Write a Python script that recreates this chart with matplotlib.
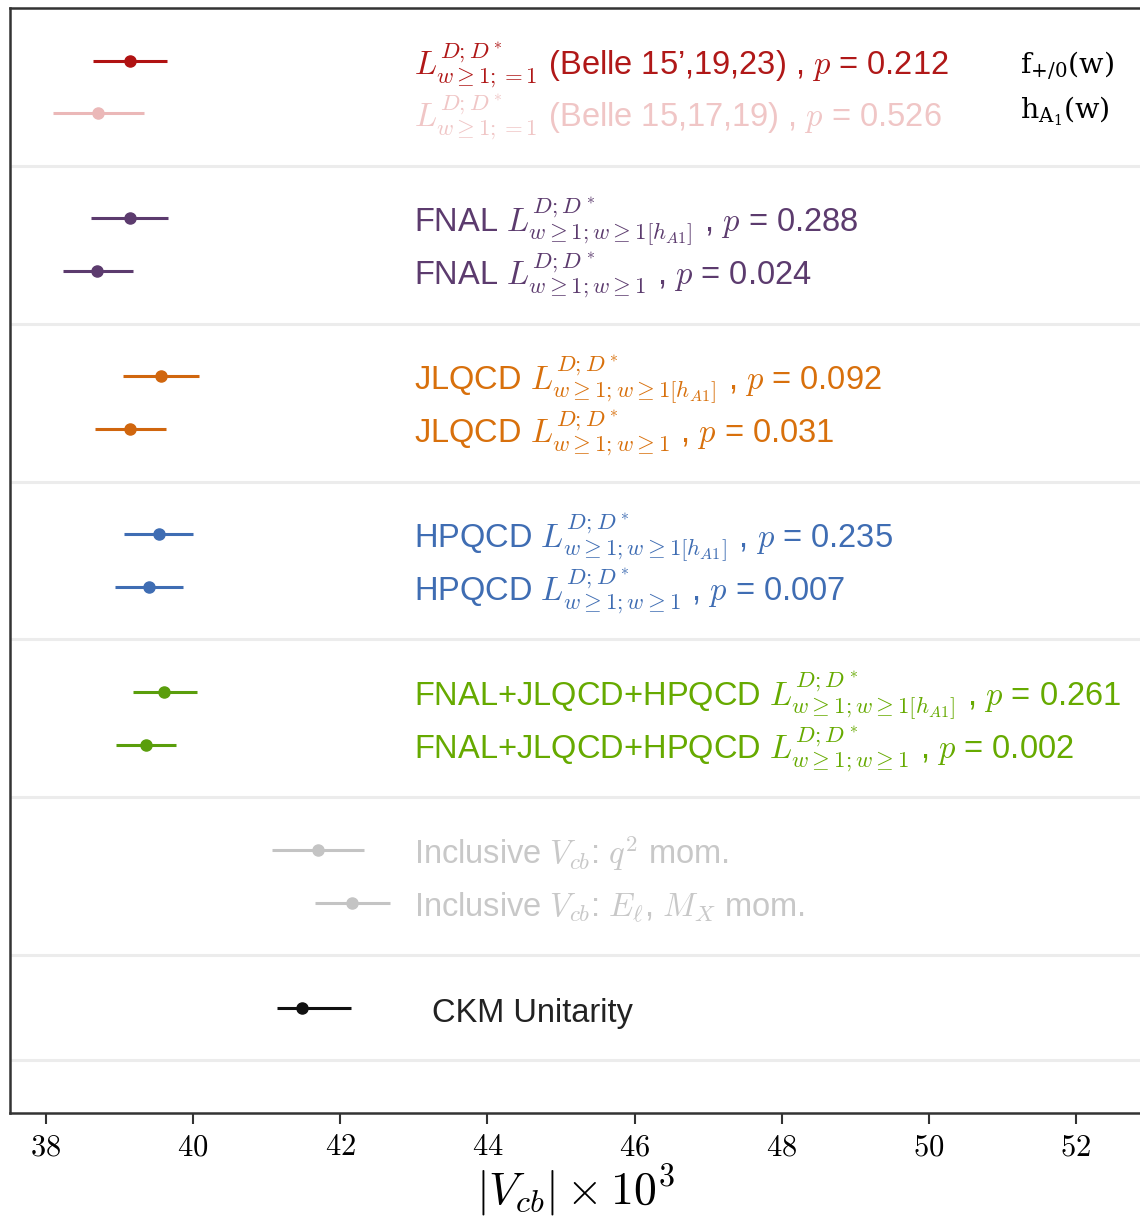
import matplotlib
matplotlib.use("Agg")
import matplotlib.pyplot as plt

# --- Data ---------------------------------------------------------------------
SUB_A = r"w{\geq}1{;}w{\geq}1[h_{A1}]"
SUB_B = r"w{\geq}1{;}w{\geq}1"
SUP   = r"D{;}D^*"

LABELS = [
    r"$L^{" + SUP + r"}_{w{\geq}1{;}{=}1}$ (Belle 15’,19,23) , $p$ = 0.212",
    r"$L^{" + SUP + r"}_{w{\geq}1{;}{=}1}$ (Belle 15,17,19) , $p$ = 0.526",
    r"FNAL $L^{" + SUP + "}_{" + SUB_A + r"}$ , $p$ = 0.288",
    r"FNAL $L^{" + SUP + "}_{" + SUB_B + r"}$ , $p$ = 0.024",
    r"JLQCD $L^{" + SUP + "}_{" + SUB_A + r"}$ , $p$ = 0.092",
    r"JLQCD $L^{" + SUP + "}_{" + SUB_B + r"}$ , $p$ = 0.031",
    r"HPQCD $L^{" + SUP + "}_{" + SUB_A + r"}$ , $p$ = 0.235",
    r"HPQCD $L^{" + SUP + "}_{" + SUB_B + r"}$ , $p$ = 0.007",
    r"FNAL+JLQCD+HPQCD $L^{" + SUP + "}_{" + SUB_A + r"}$ , $p$ = 0.261",
    r"FNAL+JLQCD+HPQCD $L^{" + SUP + "}_{" + SUB_B + r"}$ , $p$ = 0.002",
    r"Inclusive $V_{cb}$: $q^2$ mom.",
    r"Inclusive $V_{cb}$: $E_\ell$, $M_X$ mom.",
    "CKM Unitarity",
]
VCB    = [39.14, 38.71, 39.14, 38.69, 39.56, 39.14, 39.53, 39.40, 39.61, 39.36, 41.69, 42.16, 41.48]
ERR_LO = [0.50, 0.61, 0.53, 0.46, 0.52, 0.47, 0.47, 0.46, 0.43, 0.41, 0.62, 0.50, 0.34]
ERR_HI = [0.50, 0.62, 0.52, 0.49, 0.52, 0.49, 0.47, 0.46, 0.44, 0.41, 0.63, 0.51, 0.66]

MARK_COLORS = ["#b01212", "#ebb8b8", "#5c3b6e", "#5c3b6e", "#d0660e", "#d0660e",
               "#3f6db3", "#3f6db3", "#5a9e0c", "#5a9e0c", "#c4c4c4", "#c4c4c4", "#111111"]
TEXT_COLORS = ["#b01818", "#f0c6c6", "#5c3b6e", "#5c3b6e", "#d8700c", "#d8700c",
               "#3f6db3", "#3f6db3", "#66aa00", "#66aa00", "#c8c8c8", "#c8c8c8", "#222222"]

ROW_Y      = [1, 2, 4, 5, 7, 8, 10, 11, 13, 14, 16, 17, 19]
SEPARATORS = [3, 6, 9, 12, 15, 18, 20]
XTICKS     = [38, 40, 42, 44, 46, 48, 50, 52]

# --- Figure -------------------------------------------------------------------
plt.rcParams["mathtext.fontset"] = "cm"
plt.rcParams["font.family"] = ["Liberation Sans", "DejaVu Sans"]

fig = plt.figure(figsize=(11.4, 12.23), dpi=100)
ax = fig.add_axes([10 / 1140, 110 / 1223, 1130 / 1140, 1105 / 1223])

for ys in SEPARATORS:
    ax.axhline(ys, color="#ececec", lw=2.2, zorder=0)

for i, y in enumerate(ROW_Y):
    ax.errorbar(VCB[i], y, xerr=[[ERR_LO[i]], [ERR_HI[i]]], fmt="o",
                color=MARK_COLORS[i], ms=8, lw=2.2, capsize=0, zorder=3)
    tx = 43.25 if i == len(ROW_Y) - 1 else 43.0
    ax.text(tx, y + 0.27, LABELS[i], color=TEXT_COLORS[i], fontsize=23.5,
            va="baseline", ha="left")

# form-factor annotation top right
ax.text(51.24, 1.12, r"f$_{+/0}$(w)", fontsize=20.5, family="DejaVu Serif",
        math_fontfamily="dejavuserif", va="center", ha="left")
ax.text(51.24, 1.96, r"h$_{\mathrm{A}_1}$(w)", fontsize=20.5, family="DejaVu Serif",
        math_fontfamily="dejavuserif", va="center", ha="left")

ax.set_xlim(37.51, 52.87)
ax.set_ylim(21, 0)
ax.set_yticks([])
ax.set_xticks(XTICKS)
ax.set_xticklabels([f"${t}$" for t in XTICKS], fontsize=22)
ax.tick_params(axis="x", direction="out", length=8, width=1.5, pad=6, color="#333333")
ax.set_xlabel(r"$|V_{cb}|\times10^3$", fontsize=33, labelpad=0)

for side in ["left", "bottom", "top"]:
    ax.spines[side].set_linewidth(1.8)
    ax.spines[side].set_color("#333333")
ax.spines["right"].set_visible(False)

fig.savefig("out.png", dpi=100)
